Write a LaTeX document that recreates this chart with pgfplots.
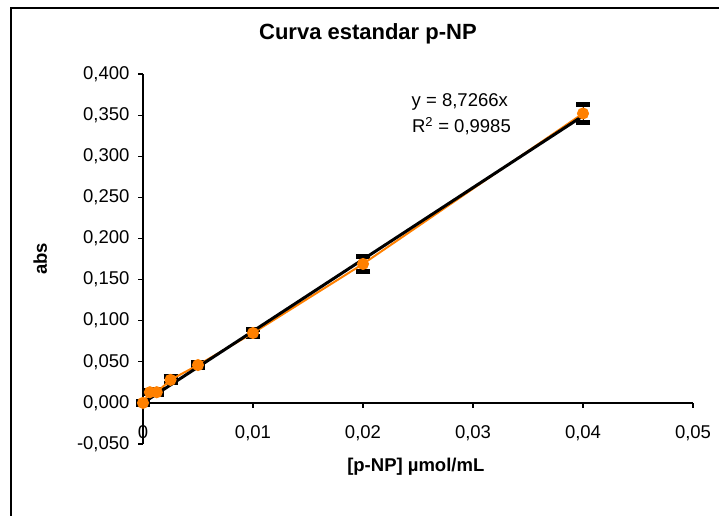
\documentclass[border=0pt]{standalone}
\usepackage{pgfplots}
\pgfplotsset{compat=1.18}
\usepackage{fontspec}
\setmainfont{Liberation Sans}
\definecolor{xlorange}{RGB}{255,128,0}
\begin{document}
\begin{tikzpicture}
\useasboundingbox (0pt,0pt) rectangle (719pt,515pt);
\draw[line width=1.6pt] (11pt,-20pt) -- (11pt,507pt) -- (740pt,507pt);
\begin{axis}[
  at={(143pt,71pt)}, anchor=south west,
  scale only axis, width=550pt, height=370pt,
  xmin=0, xmax=0.05, ymin=-0.05, ymax=0.4,
  axis x line=middle, axis y line=left,
  axis line style={line width=1.4pt, -},
  hide obscured x ticks=false, hide obscured y ticks=false,
  xtick={0,0.01,0.02,0.03,0.04,0.05},
  ytick={-0.05,0,0.05,0.1,0.15,0.2,0.25,0.3,0.35,0.4},
  tick align=outside, major tick length=5pt,
  tick style={line width=1.2pt, black},
  /pgf/number format/assume math mode=true,
  xticklabel style={/pgf/number format/.cd, fixed, precision=2, use comma, /tikz/.cd, font=\fontsize{18.5}{21}\selectfont, yshift=-14pt},
  yticklabel style={/pgf/number format/.cd, fixed, fixed zerofill, precision=3, use comma, /tikz/.cd, font=\fontsize{18.5}{21}\selectfont, xshift=-5pt},
  scaled x ticks=false, scaled y ticks=false,
  title={Curva estandar p-NP},
  title style={at={(axis description cs:0.409,1.076)}, anchor=base, font=\fontsize{22}{25}\selectfont\bfseries},
  xlabel={[p-NP] µmol/mL},
  xlabel style={at={(axis description cs:0.496,-0.073)}, anchor=base, font=\fontsize{18.5}{21}\selectfont\bfseries},
  ylabel={abs},
  ylabel style={at={(axis description cs:-0.187,0.5)}, anchor=center, font=\fontsize{18.5}{21}\selectfont\bfseries},
  clip=false,
]
\addplot[draw=none, forget plot,
  error bars/.cd, y dir=both, y explicit,
  error bar style={black, line width=1pt},
  error mark options={black, line width=4.5pt, mark size=7pt, rotate=90}]
  table[x=x, y=y, y error=e] {
x y e
0 0.000 0.002
0.000625 0.013 0.002
0.00125 0.013 0.003
0.0025 0.028 0.004
0.005 0.046 0.003
0.01 0.085 0.004
0.02 0.169 0.009
0.04 0.352 0.011
};
\addplot[xlorange, line width=2pt, mark=*, mark size=5pt, mark options={fill=xlorange, draw=xlorange}]
  table[x=x, y=y] {
x y
0 0.000
0.000625 0.013
0.00125 0.013
0.0025 0.028
0.005 0.046
0.01 0.085
0.02 0.169
0.04 0.352
};
\addplot[black, line width=3pt] coordinates {(0,0) (0.04,0.349064)};
\node[anchor=base, font=\fontsize{18.5}{22}\selectfont] at (axis cs:0.0288,0.360) {y = 8,7266x};
\node[anchor=base, font=\fontsize{18.5}{22}\selectfont] at (axis cs:0.02895,0.3285) {R\textsuperscript{2} = 0,9985};
\end{axis}
\end{tikzpicture}
\end{document}
